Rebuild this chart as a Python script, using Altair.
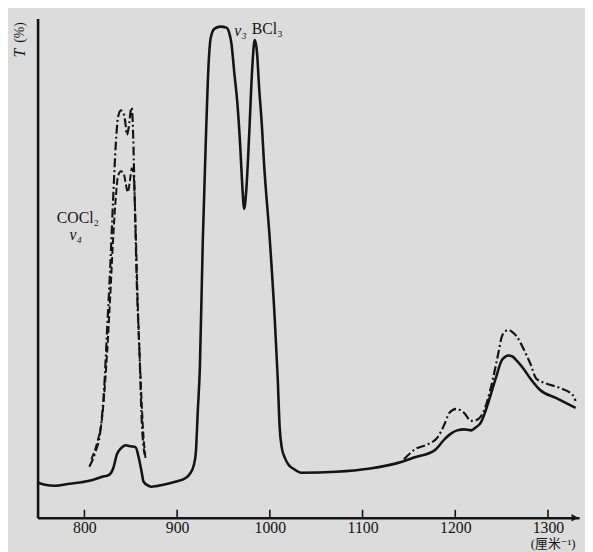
import altair as alt
import pandas as pd

# ---- data (wavenumber cm^-1, transmittance %) ----
solid_w = [750.0, 757.4, 768.1, 784.0, 805.3, 819.1, 826.6, 830.9, 835.1, 839.4, 844.7, 850.0,
           855.3, 858.5, 861.7, 863.8, 869.1, 872.3, 885.1, 897.9, 909.6, 913.8, 918.1, 920.2,
           922.3, 924.5, 927.7, 930.9, 934.0, 936.2, 940.4, 946.8, 953.2, 956.4, 958.5, 961.7,
           964.9, 968.1, 970.2, 972.3, 974.5, 977.7, 980.9, 983.0, 984.0, 986.2, 988.3, 991.5,
           993.6, 1000.0, 1005.3, 1008.5, 1010.6, 1012.8, 1016.0, 1020.2, 1025.5, 1034.0, 1071.3,
           1106.4, 1142.6, 1156.4, 1177.7, 1188.3, 1195.7, 1202.1, 1209.6, 1217.0, 1222.3, 1227.7,
           1231.9, 1236.2, 1243.6, 1250.0, 1254.3, 1257.4, 1261.7, 1266.0, 1273.4, 1280.9, 1291.5,
           1308.5, 1329.8]
solid_t = [7.0, 6.6, 6.4, 6.8, 7.4, 8.2, 8.6, 9.8, 12.7, 13.9, 14.5, 14.3,
           14.1, 12.1, 9.2, 7.2, 6.4, 6.2, 6.6, 7.2, 8.0, 8.8, 10.6, 13.1,
           21.4, 29.9, 55.6, 75.3, 91.1, 96.1, 98.0, 98.4, 98.2, 97.0, 95.1, 89.1,
           83.2, 74.3, 66.8, 61.9, 65.4, 76.7, 89.7, 95.1, 95.7, 93.1, 86.6, 78.3,
           71.4, 55.6, 39.8, 27.9, 18.1, 14.1, 12.1, 10.6, 9.8, 9.0, 9.2,
           9.8, 11.2, 12.1, 13.5, 15.7, 16.9, 17.5, 17.7, 17.5, 18.1, 19.1,
           21.0, 23.4, 27.9, 31.5, 32.3, 32.5, 32.3, 31.5, 29.9, 27.9, 25.6,
           24.0, 22.0]

# COCl2 band, upper dash-dot trace
dd_w = [805.3, 811.7, 817.0, 821.3, 824.5, 827.7, 830.9, 834.0, 836.2, 839.4, 842.6, 844.7,
        845.7, 847.9, 850.0, 851.1, 852.1, 854.3, 856.4, 859.6, 861.7, 864.9]
dd_t = [10.2, 13.1, 17.1, 26.0, 37.8, 49.6, 63.5, 75.3, 80.2, 81.6, 80.8, 78.3,
        76.7, 78.3, 81.6, 82.2, 79.3, 63.5, 47.7, 31.9, 20.0, 12.7]

# COCl2 band, lower dashed trace
ds_w = [807.4, 813.8, 819.1, 823.4, 827.7, 830.9, 834.0, 836.2, 839.4, 842.6, 844.7, 846.8,
        849.0, 851.1, 853.2, 855.3, 857.4, 860.6, 863.8, 866.0]
ds_t = [11.7, 15.1, 20.0, 29.9, 43.7, 55.6, 64.5, 68.4, 69.4, 68.8, 66.8, 65.2,
        67.4, 70.0, 68.4, 57.6, 43.7, 27.9, 16.1, 11.7]

# high-wavenumber dash-dot trace
hd_w = [1144.7, 1156.4, 1170.2, 1180.9, 1188.3, 1193.6, 1201.1, 1209.6, 1217.0, 1223.4, 1230.9,
        1238.3, 1246.8, 1250.0, 1254.3, 1257.4, 1261.7, 1266.0, 1273.4, 1280.9, 1287.2, 1297.9,
        1312.8, 1326.6, 1329.8]
hd_t = [11.7, 13.7, 14.7, 16.1, 18.7, 21.0, 21.8, 21.0, 19.4, 19.6, 21.4,
        26.0, 33.3, 36.2, 37.4, 37.6, 37.2, 36.4, 33.9, 30.9, 27.9, 26.9,
        26.0, 24.6, 23.4]

tick_values = [800, 900, 1000, 1100, 1200, 1300]

ann_text = ["ν₃", "BCl₃", "COCl₂", "ν₄"]
ann_w = [961.5, 980.5, 770.2, 784.0]
ann_t = [97.6, 98.0, 60.1, 56.6]
ann_style = ["italic", "normal", "normal", "italic"]

W, H = 549, 506
FONT = "'Liberation Serif', 'DejaVu Serif', 'Noto Sans CJK SC', serif"
INK = "#141414"

xs = alt.Scale(domain=[749.5, 749.5 + W / 0.94], nice=False, zero=False)
ys = alt.Scale(domain=[0, 100], nice=False, zero=False)


def frame(w, t):
    return pd.DataFrame({"w": w, "t": t, "i": list(range(len(w)))})


x_axis = alt.Axis(values=tick_values, ticks=False, grid=False, title=None, format="d",
                  labelFont=FONT, labelFontSize=16, labelColor=INK, labelPadding=2,
                  domainColor=INK, domainWidth=2.4)
y_axis = alt.Axis(ticks=False, labels=False, grid=False, title=None,
                  domainColor=INK, domainWidth=2.6)

solid = alt.Chart(frame(solid_w, solid_t)).mark_line(
    color=INK, strokeWidth=2.6, interpolate="monotone"
).encode(x=alt.X("w:Q", scale=xs, axis=x_axis), y=alt.Y("t:Q", scale=ys, axis=y_axis), order="i:Q")

dashdot = alt.Chart(frame(dd_w, dd_t)).mark_line(
    color=INK, strokeWidth=2.2, strokeDash=[9, 3, 2, 3], interpolate="monotone"
).encode(x=alt.X("w:Q", scale=xs), y=alt.Y("t:Q", scale=ys), order="i:Q")

dashed = alt.Chart(frame(ds_w, ds_t)).mark_line(
    color=INK, strokeWidth=2.0, strokeDash=[7, 3], interpolate="monotone"
).encode(x=alt.X("w:Q", scale=xs), y=alt.Y("t:Q", scale=ys), order="i:Q")

hi_dd = alt.Chart(frame(hd_w, hd_t)).mark_line(
    color=INK, strokeWidth=2.2, strokeDash=[9, 3, 2, 3], interpolate="monotone"
).encode(x=alt.X("w:Q", scale=xs), y=alt.Y("t:Q", scale=ys), order="i:Q")

ticks = alt.Chart(pd.DataFrame({"w": tick_values})).mark_rule(color=INK, strokeWidth=1.6).encode(
    x=alt.X("w:Q", scale=xs), y=alt.value(H - 8), y2=alt.value(H)
)

arrow = alt.Chart(pd.DataFrame({"w": [1329.0], "t": [0.0]})).mark_point(
    shape="triangle-right", filled=True, size=60, color=INK, opacity=1
).encode(x=alt.X("w:Q", scale=xs), y=alt.Y("t:Q", scale=ys))

ann_df = pd.DataFrame({"label": ann_text, "w": ann_w, "t": ann_t, "style": ann_style})
ann_it = alt.Chart(ann_df[ann_df["style"] == "italic"]).mark_text(
    font=FONT, fontSize=16, fontStyle="italic", color=INK, align="left", baseline="middle"
).encode(x=alt.X("w:Q", scale=xs), y=alt.Y("t:Q", scale=ys), text="label:N")
ann_rm = alt.Chart(ann_df[ann_df["style"] == "normal"]).mark_text(
    font=FONT, fontSize=16, color=INK, align="left", baseline="middle"
).encode(x=alt.X("w:Q", scale=xs), y=alt.Y("t:Q", scale=ys), text="label:N")

unit = alt.Chart(pd.DataFrame({"label": ["(厘米⁻¹)"], "w": [1281.5], "t": [-5.3]})).mark_text(
    font=FONT, fontSize=13, color=INK, align="left", baseline="middle"
).encode(x=alt.X("w:Q", scale=xs), y=alt.Y("t:Q", scale=ys), text="label:N")

t_label = alt.Chart(pd.DataFrame({"label": ["T"]})).mark_text(
    font=FONT, fontSize=16, fontStyle="italic", color=INK, angle=270, align="center", baseline="middle"
).encode(x=alt.value(-18), y=alt.value(35), text="label:N")

pct_label = alt.Chart(pd.DataFrame({"label": ["(%)"]})).mark_text(
    font=FONT, fontSize=14, color=INK, angle=270, align="center", baseline="middle"
).encode(x=alt.value(-18), y=alt.value(14), text="label:N")

chart = alt.layer(solid, dashdot, dashed, hi_dd, ticks, arrow, ann_it, ann_rm, unit, t_label, pct_label).properties(
    width=W, height=H,
    autosize=alt.AutoSizeParams(type="none"),
    padding={"left": 30, "top": 7, "right": 6, "bottom": 31},
    background="#dcdcdc",
).configure_view(stroke=None)

chart.save("out.html", embed_options={"renderer": "svg", "actions": False})
